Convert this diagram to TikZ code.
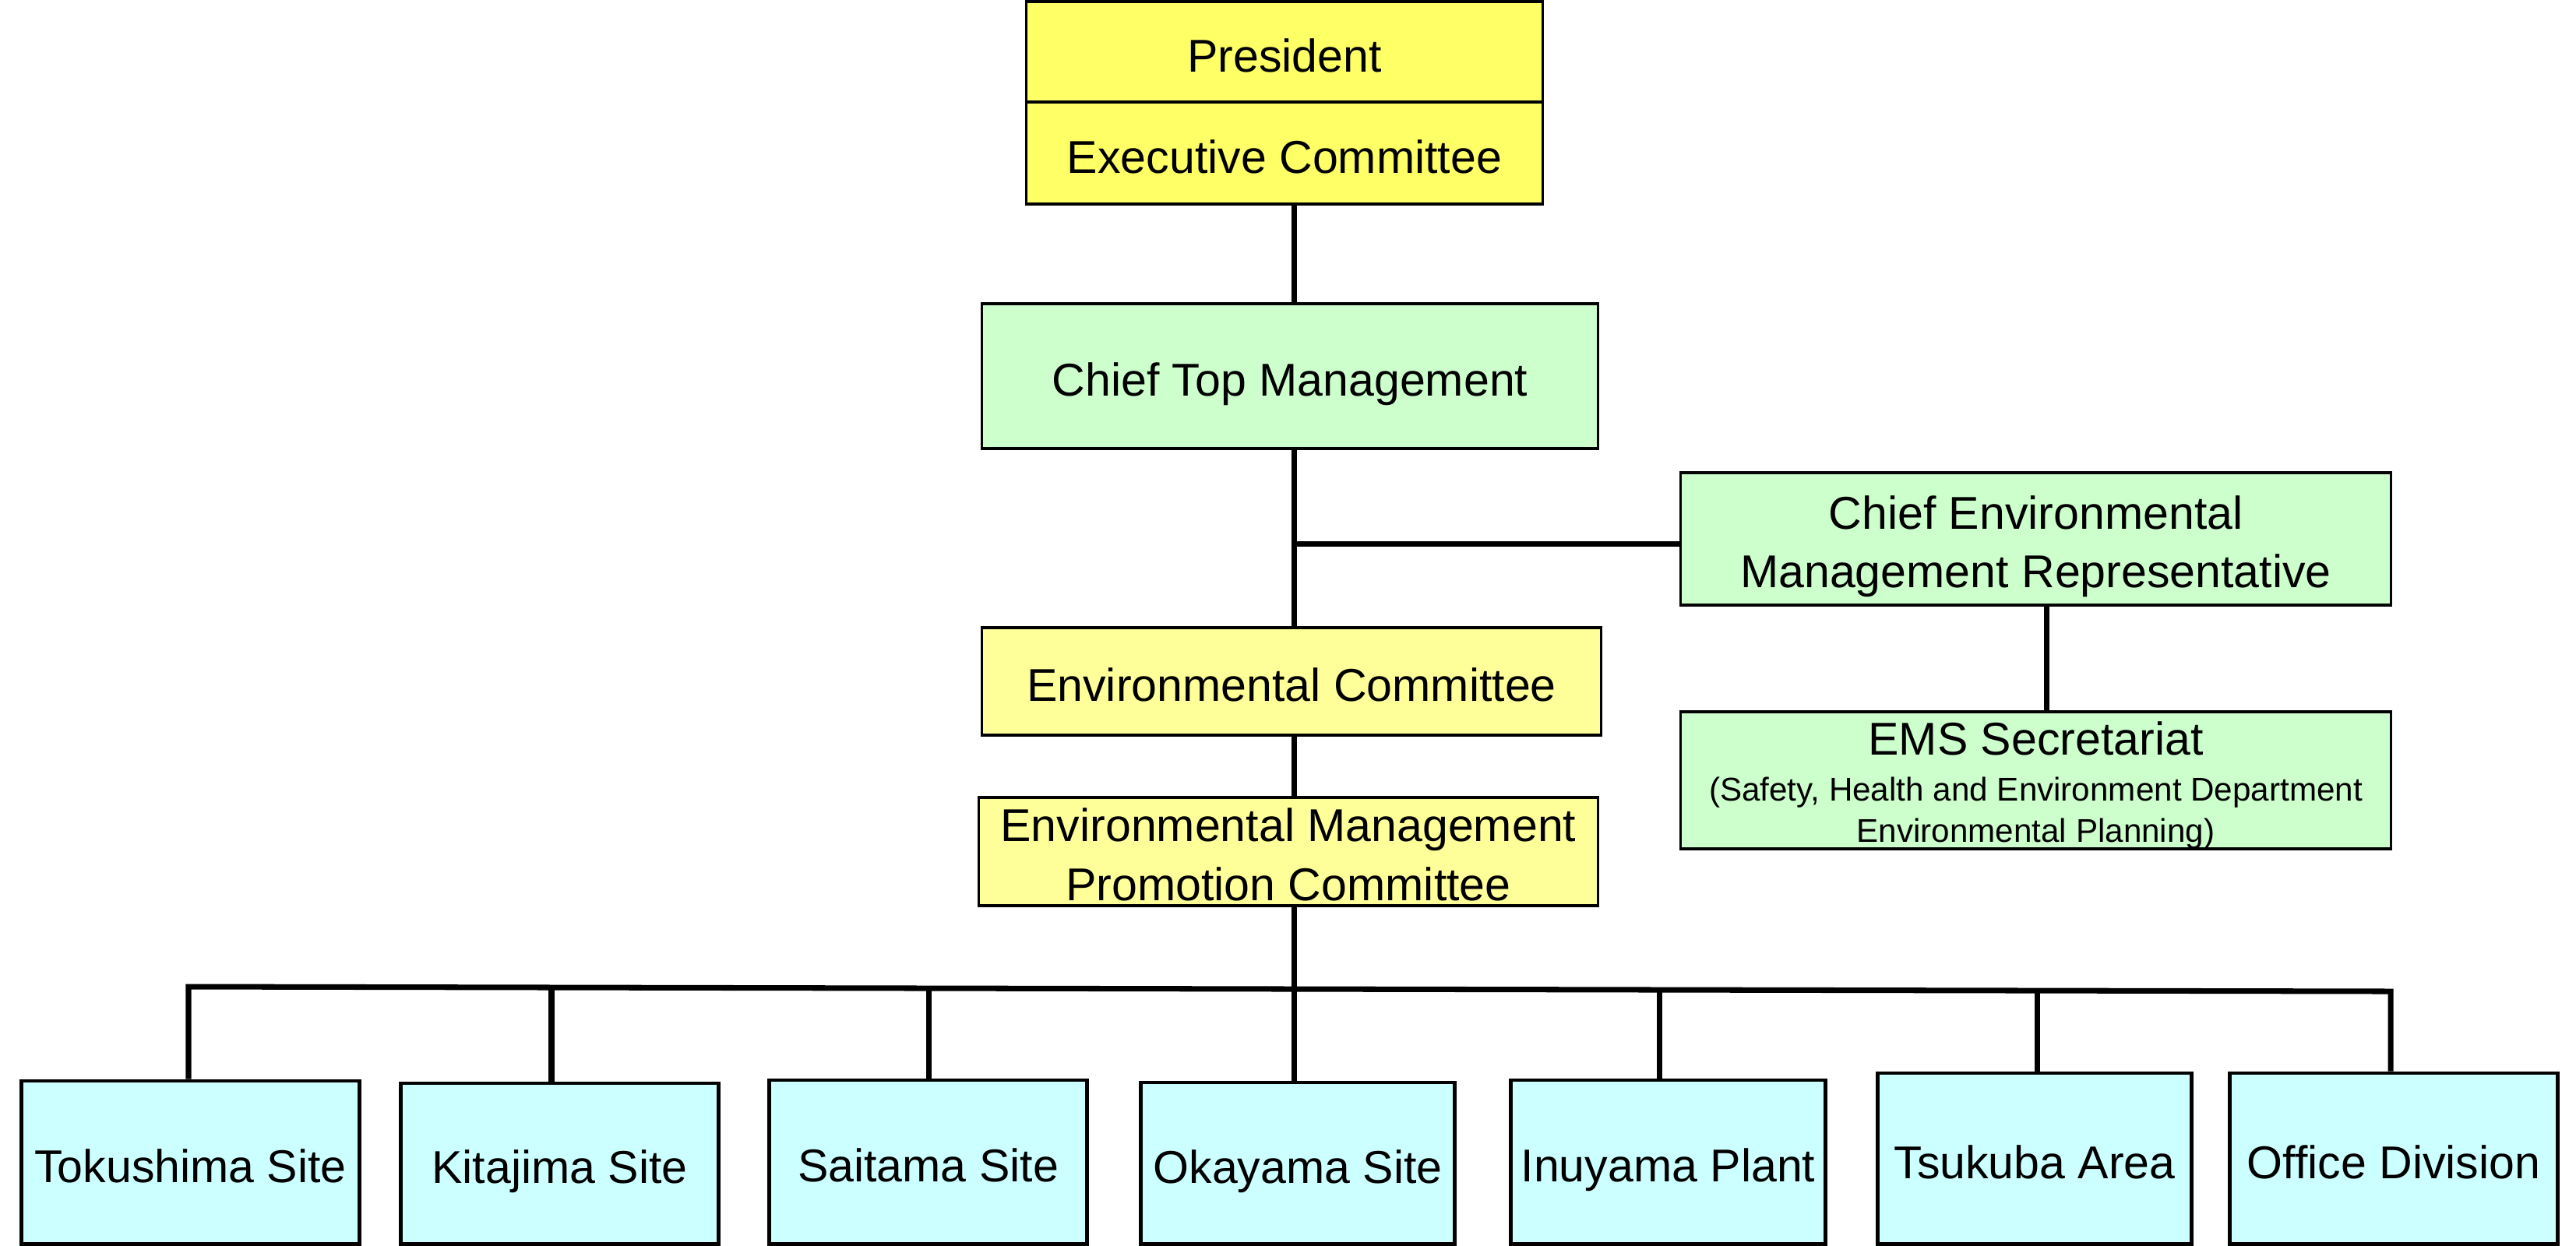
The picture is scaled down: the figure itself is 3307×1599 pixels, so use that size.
\documentclass[tikz,border=0pt]{standalone}
\usepackage{fontspec}
\setmainfont{Liberation Sans}
\definecolor{headyellow}{HTML}{FFFF66}
\definecolor{committeeyellow}{HTML}{FFFF99}
\definecolor{managergreen}{HTML}{CCFFCC}
\definecolor{sitecyan}{HTML}{CCFFFF}
\newcommand{\orgfont}{\fontsize{16.8pt}{21.6pt}\selectfont}
\newcommand{\notefont}{\fontsize{12pt}{15pt}\selectfont}
\tikzset{
    % Colors
    head yellow/.style={fill=headyellow},
    committee yellow/.style={fill=committeeyellow},
    manager green/.style={fill=managergreen},
    site cyan/.style={fill=sitecyan},
    %
    % Boxes
    box/.style={draw,line width=0.9pt,inner sep=0pt,align=center},
    one line/.style={text height=14.6pt,text depth=0pt},
    two lines/.style={text height=35.8pt,text depth=0pt},
    head box/.style={box,one line,head yellow},
    committee box/.style={box,committee yellow},
    manager box/.style={box,manager green},
    site box/.style={box,one line,site cyan,line width=1.4pt},
    %
    % Lines
    link/.style={line width=2pt},
}
\tikzstyle{every node}=[font=\orgfont]

\begin{document}
\begin{tikzpicture}[x=0.01cm,y=-0.01cm]
    \useasboundingbox (0,0) rectangle (3307,1599);
    % Management
    \node[head box,minimum width=6.62cm,minimum height=1.29cm] (pres) at (1649,66.5) {President};
    \node[head box,minimum width=6.62cm,minimum height=1.31cm] (exec) at (1649,196.5) {Executive Committee};
    \node[manager box,one line,minimum width=7.91cm,minimum height=1.86cm] (ctm) at (1656,483) {Chief Top Management};
    \node[manager box,two lines,minimum width=9.11cm,minimum height=1.70cm] (cemr) at (2613.5,692) {Chief Environmental\\Management Representative};
    \node[manager box,text height=45pt,text depth=0pt,minimum width=9.11cm,minimum height=1.76cm] (ems) at (2613.5,1002) {EMS Secretariat\\[-4.8pt]{\notefont (Safety, Health and Environment Department}\\[-6.6pt]{\notefont Environmental Planning)}};
    \node[committee box,one line,minimum width=7.94cm,minimum height=1.38cm] (envc) at (1658,875) {Environmental Committee};
    \node[committee box,two lines,minimum width=7.94cm,minimum height=1.39cm] (empc) at (1654,1093.5) {Environmental Management\\Promotion Committee};
    % Sites
    \node[site box,minimum width=4.33cm,minimum height=2.09cm] (tok) at (244.5,1492.5) {Tokushima Site};
    \node[site box,minimum width=4.07cm,minimum height=2.06cm] (kit) at (718.5,1494) {Kitajima Site};
    \node[site box,minimum width=4.07cm,minimum height=2.10cm] (sai) at (1191.5,1492) {Saitama Site};
    \node[site box,minimum width=4.03cm,minimum height=2.07cm] (oka) at (1666,1493.5) {Okayama Site};
    \node[site box,minimum width=4.03cm,minimum height=2.10cm] (inu) at (2141.5,1492) {Inuyama Plant};
    \node[site box,minimum width=4.02cm,minimum height=2.19cm] (tsu) at (2612,1487.5) {Tsukuba Area};
    \node[site box,minimum width=4.20cm,minimum height=2.19cm] (off) at (3073,1487.5) {Office Division};
    % Connections
    \coordinate (spine) at (1661,0);
    \coordinate (sec) at (2627,0);
    \coordinate (branch) at (1661,698);
    \draw[link] (exec.south -| spine) -- (ctm.north -| spine);
    \draw[link] (ctm.south -| spine) -- (envc.north -| spine);
    \draw[link] (envc.south -| spine) -- (empc.north -| spine);
    \draw[link] (empc.south -| spine) -- (oka.north -| spine);
    \draw[link] (branch) -- (branch -| cemr.west);
    \draw[link] (cemr.south -| sec) -- (ems.north -| sec);
    % Bus to the sites
    \foreach \n/\sx/\sy in {tok/242/1267,kit/708/1268,sai/1192/1269,inu/2130/1271,tsu/2615/1272,off/3069/1273}
        \coordinate (s\n) at (\sx,\sy);
    \draw[link] (stok |- tok.north) -- (stok) -- (soff) -- (soff |- off.north);
    \foreach \n in {kit,sai,inu,tsu}
        \draw[link] (s\n) -- (s\n |- \n.north);
\end{tikzpicture}
\end{document}
